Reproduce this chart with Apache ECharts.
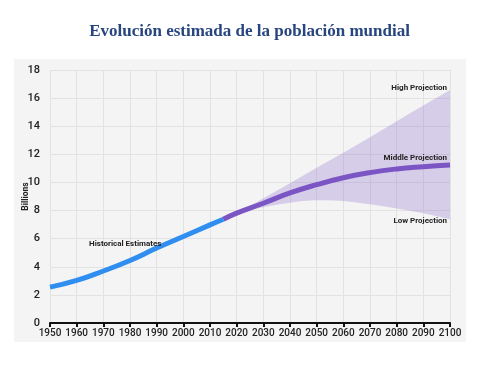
<!DOCTYPE html>
<html><head><meta charset="utf-8">
<script src="https://cdn.jsdelivr.net/npm/echarts@6/dist/echarts.min.js"></script>
<style>html,body{margin:0;padding:0;background:#fff}#c{width:499px;height:366px}</style>
</head><body><div id="c"></div>
<script>
const histYears = [1950,1960,1970,1980,1990,2000,2010,2015];
const histValues = [2.55,3.03,3.70,4.45,5.33,6.15,6.98,7.38];
const projYears = [2015,2020,2030,2040,2050,2060,2070,2080,2090,2100];
const middleValues = [7.38,7.82,8.52,9.25,9.84,10.33,10.70,10.96,11.12,11.24];
const bandYears = [2020,2030,2040,2050,2060,2070,2080,2090,2100];
const lowValues = [7.82,8.23,8.56,8.73,8.68,8.44,8.14,7.80,7.37];
const highValues = [7.82,8.87,9.94,11.05,12.11,13.22,14.36,15.47,16.57];
const yTicks = [0,2,4,6,8,10,12,14,16,18];

const chart = echarts.init(document.getElementById('c'));
const pairs = (xs, ys) => xs.map((x,i)=>[x, ys[i]]);
const lblFont = 'bold 8px Roboto';
function curve(pts, moveFirst){
  let d = (moveFirst ? 'M' : 'L') + pts[0][0] + ' ' + pts[0][1];
  for (let i=0;i<pts.length-1;i++){
    const p0 = pts[Math.max(i-1,0)], p1 = pts[i], p2 = pts[i+1], p3 = pts[Math.min(i+2,pts.length-1)];
    const c1 = [p1[0]+(p2[0]-p0[0])/6, p1[1]+(p2[1]-p0[1])/6];
    const c2 = [p2[0]-(p3[0]-p1[0])/6, p2[1]-(p3[1]-p1[1])/6];
    d += ' C' + c1.join(' ') + ' ' + c2.join(' ') + ' ' + p2.join(' ');
  }
  return d;
}
chart.setOption({
  animation:false,
  title:{text:'Evolución estimada de la población mundial', left:'center', top:18,
    textStyle:{fontFamily:'Liberation Serif', fontSize:17, fontWeight:'bold', color:'#27457f'}},
  graphic:[{type:'rect', z:-10, shape:{x:14,y:59,width:452,height:283}, style:{fill:'#f4f4f4'}, silent:true},
    {type:'text', x:447, y:84, z:10, style:{text:'High Projection', align:'right', font:lblFont, fill:'#222'}},
    {type:'text', x:447, y:154, z:10, style:{text:'Middle Projection', align:'right', font:lblFont, fill:'#222'}},
    {type:'text', x:447, y:217, z:10, style:{text:'Low Projection', align:'right', font:lblFont, fill:'#222'}},
    {type:'text', x:89, y:240, z:10, style:{text:'Historical Estimates', align:'left', font:lblFont, fill:'#222'}}
  ],
  grid:{left:50, right:49, top:70, bottom:43},
  xAxis:{type:'value', min:1950, max:2100, interval:10,
    axisLine:{show:true, onZero:false, lineStyle:{color:'#111', width:2}},
    axisTick:{show:true, length:4, inside:false, lineStyle:{color:'#111', width:2}},
    axisLabel:{fontFamily:'Roboto', fontSize:10, color:'#222', fontWeight:500, margin:5, formatter:v=>String(v)},
    splitLine:{show:true, lineStyle:{color:'#e2e2e2', width:1}}},
  yAxis:{type:'value', min:0, max:18, interval:2,
    name:'Billions', nameLocation:'middle', nameGap:20, nameRotate:90, nameMoveOverlap:false,
    nameTextStyle:{fontFamily:'Roboto', fontSize:8.5, color:'#222', fontWeight:'bold'},
    axisLine:{show:false}, axisTick:{show:false},
    axisLabel:{fontFamily:'Roboto', fontSize:11, color:'#222', fontWeight:500, margin:10,
      formatter:v=> yTicks.includes(v) ? String(v) : ''},
    splitLine:{show:true, lineStyle:{color:'#e2e2e2', width:1}}},
  series:[
    {type:'custom', name:'band', silent:true, z:3,
      data:[0],
      renderItem:(params, api)=>{
        const top = bandYears.map((y,i)=>api.coord([y, highValues[i]]));
        const bot = bandYears.map((y,i)=>api.coord([y, lowValues[i]])).reverse();
        const d = curve(top, true) + ' ' + curve(bot, false) + ' Z';
        return {type:'path', shape:{pathData:d}, style:{fill:'rgba(123,85,196,0.24)', stroke:null}};
      }},
    {type:'line', name:'hist', data:pairs(histYears, histValues), smooth:true, symbol:'none',
      lineStyle:{color:'#2f8ef0', width:5}, z:5},
    {type:'line', name:'middle', data:pairs(projYears, middleValues), smooth:true, symbol:'none',
      lineStyle:{color:'#7b55c4', width:5}, z:6}
  ]
});
</script></body></html>
